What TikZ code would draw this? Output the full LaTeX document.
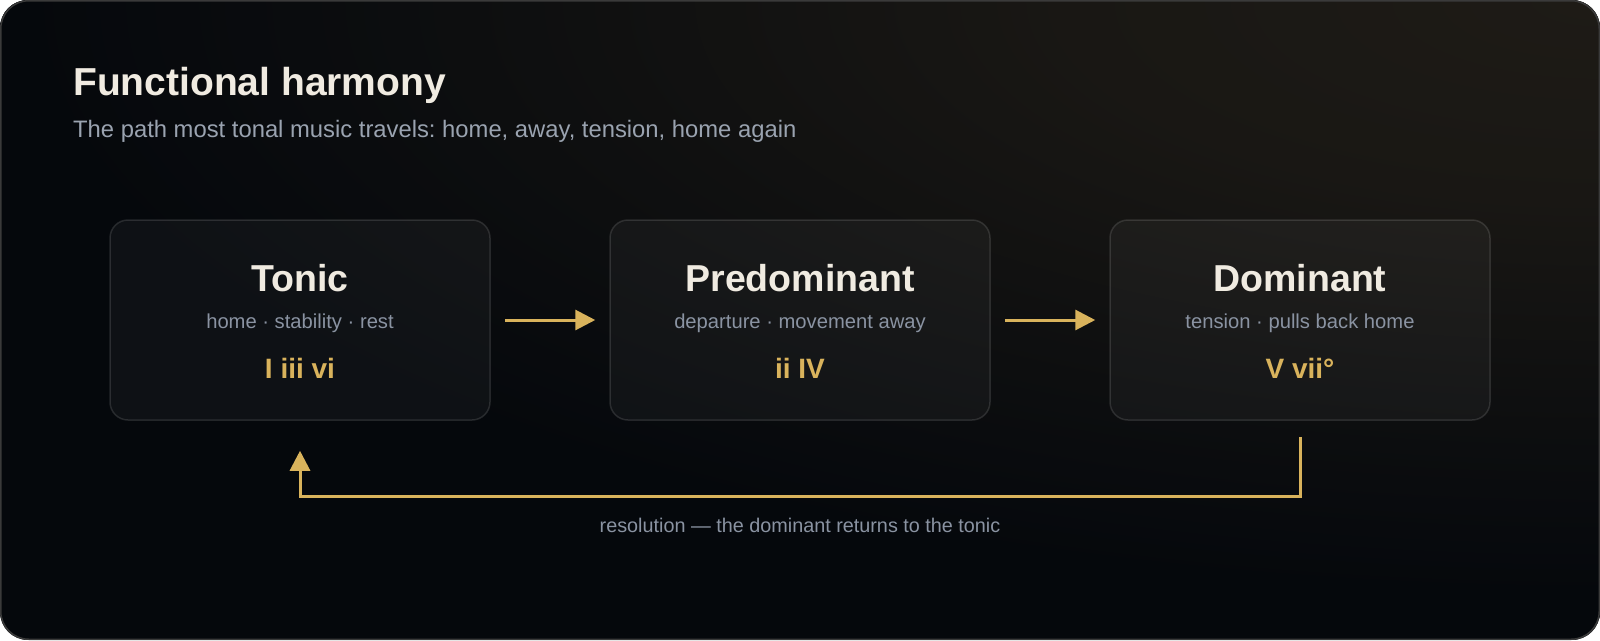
\documentclass[tikz,border=0pt]{standalone}
\usepackage{fontspec}
\setmainfont{Liberation Sans}
\usetikzlibrary{arrows.meta}
\frenchspacing
\definecolor{bg}{HTML}{05080C}
\definecolor{warm}{HTML}{1E1B16}
\definecolor{cardline}{HTML}{3A3A3A}
\definecolor{cream}{HTML}{F0EBE1}
\definecolor{subgray}{HTML}{9AA3B0}
\definecolor{descgray}{HTML}{8A93A2}
\definecolor{gold}{HTML}{D9B35C}
\pgfdeclareradialshading{glow}{\pgfpoint{0bp}{0bp}}{%
  color(0bp)=(warm); color(8bp)=(warm!80!bg); color(16bp)=(warm!38!bg); color(24bp)=(bg); color(50bp)=(bg)}
\tikzset{
  stage/.style={draw=white, draw opacity=0.12, fill=white, fill opacity=0.04,
    rounded corners=18pt, minimum width=380pt, minimum height=200pt,
    line width=1.5pt, inner sep=0pt},
  maintitle/.style={text=cream, font=\fontsize{39}{44}\selectfont\bfseries, inner sep=0pt, anchor=base west},
  mainsub/.style={text=subgray, font=\fontsize{23.8}{28}\selectfont, inner sep=0pt, anchor=base west},
  stitle/.style={text=cream, font=\fontsize{37.5}{44}\selectfont\bfseries, inner sep=0pt, anchor=base},
  sdesc/.style={text=descgray, font=\fontsize{20.2}{24}\selectfont, inner sep=0pt, anchor=base},
  schord/.style={text=gold, font=\fontsize{28}{32}\selectfont\bfseries, inner sep=0pt, anchor=base},
  reslabel/.style={text=descgray, font=\fontsize{19.8}{24}\selectfont, inner sep=0pt, anchor=base},
  arr/.style={draw=gold, line width=3pt, -{Triangle[length=20pt,width=20pt]}}
}
\begin{document}
\begin{tikzpicture}[x=1pt,y=-1pt]
\useasboundingbox (0,0) rectangle (1600,640);
\begin{scope}
  \clip[rounded corners=28pt] (0,0) rectangle (1600,640);
  \fill[bg] (0,0) rectangle (1600,640);
  \shade[shading=glow] (1600,0) ellipse [x radius=1650, y radius=620];
\end{scope}
\draw[cardline, line width=1.5pt, rounded corners=28pt] (0.75,0.75) rectangle (1599.25,639.25);

\node[maintitle] (title) at (73,95) {Functional harmony};
\node[mainsub] (sub) at (73,137) {The path most tonal music travels: home, away, tension, home again};

\node[stage] (t) at (300,320) {};
\node[stage] (p) at (800,320) {};
\node[stage] (d) at (1300,320) {};

\node[stitle] (tT) at (300,291) {Tonic};
\node[sdesc]  (tD) at (300,328) {home · stability · rest};
\node[schord] (tC) at (300,378) {I iii vi};

\node[stitle] (pT) at (800,291) {Predominant};
\node[sdesc]  (pD) at (800,328) {departure · movement away};
\node[schord] (pC) at (800,378) {ii IV};

\node[stitle] (dT) at (1300,291) {Dominant};
\node[sdesc]  (dD) at (1300,328) {tension · pulls back home};
\node[schord] (dC) at (1300,378) {V vii°};

\draw[arr] ([xshift=14pt]t.east) -- ([xshift=-14pt]p.west);
\draw[arr] ([xshift=14pt]p.east) -- ([xshift=-14pt]d.west);

\coordinate (rstart) at ([yshift=-16pt]d.south);
\coordinate (rend) at ([yshift=-30pt]t.south);
\coordinate (rlow) at (1300,496);
\draw[arr] (rstart) -- (rlow) -| (rend);

\node[reslabel] (res) at (800,532) {resolution — the dominant returns to the tonic};
\end{tikzpicture}
\end{document}
